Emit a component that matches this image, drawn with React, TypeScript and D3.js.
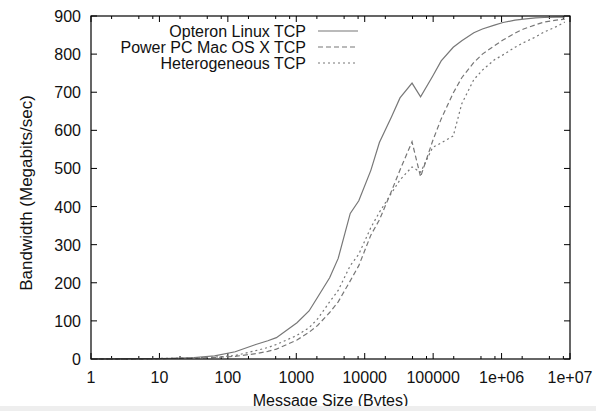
import React, { useEffect, useRef } from 'react';
import * as d3 from 'd3';

// message sizes in bytes
const sizes = [
  1, 2, 4, 8, 16, 32, 64, 128, 256, 384, 512, 1024, 1536, 2048, 3072, 4096,
  6144, 8192, 12288, 16384, 24576, 32768, 49152, 65536, 98304, 131072, 196608,
  262144, 393216, 524288, 786432, 1048576, 1572864, 2097152, 3145728, 4194304,
  6291456, 8388608,
];

// bandwidth in Megabits/sec
const opteron = [
  0.2, 0.4, 0.8, 1, 2, 4, 8, 19, 38, 48, 56, 95, 126, 162, 213, 264,
  382, 415, 495, 568, 635, 685, 724, 688, 742, 782, 818,
  835, 856, 866, 876, 883, 889, 892, 895, 896,
  897, 897,
];
const powerpc = [
  0.1, 0.2, 0.4, 0.8, 1.5, 2.5, 4, 7, 14, 20, 26, 50, 70, 88, 122, 150,
  205, 245, 325, 365, 440, 496, 570, 478, 572, 630, 698,
  738, 778, 800, 822, 837, 855, 866, 877, 884,
  889, 892,
];
const hetero = [
  0.1, 0.3, 0.6, 1, 2, 3, 5, 9, 22, 30, 38, 62, 82, 105, 150, 180,
  245, 275, 345, 385, 435, 470, 504, 490, 555, 567, 585,
  670, 733, 758, 785, 798, 818, 830, 845, 858,
  872, 884,
];

const series = [
  { name: 'Opteron Linux TCP', values: opteron, dash: null },
  { name: 'Power PC Mac OS X TCP', values: powerpc, dash: '5,3' },
  { name: 'Heterogeneous TCP', values: hetero, dash: '2,3' },
];

const xTicks = [1, 10, 100, 1000, 10000, 100000, 1e6, 1e7];
const xTickLabels = ['1', '10', '100', '1000', '10000', '100000', '1e+06', '1e+07'];
const yTicks = [0, 100, 200, 300, 400, 500, 600, 700, 800, 900];

const App = () => {
  const ref = useRef<SVGSVGElement>(null);

  useEffect(() => {
    const width = 596;
    const height = 411;
    const margin = { top: 16, right: 26, bottom: 52, left: 91 };
    const font = 'Liberation Sans, Arial, sans-serif';

    const svg = d3.select(ref.current);
    svg.selectAll('*').remove();
    svg.attr('width', width).attr('height', height);

    svg.append('rect').attr('width', width).attr('height', height).attr('fill', '#fff');

    const x = d3
      .scaleLog()
      .domain([1, 1e7])
      .range([margin.left, width - margin.right]);
    const y = d3
      .scaleLinear()
      .domain([0, 900])
      .range([height - margin.bottom, margin.top]);

    const [x0, x1] = x.range();
    const [y0, y1] = y.range();

    // minor ticks on the log axis (only 2, 5, 8 show in the picture)
    const minor: number[] = [];
    for (let e = 0; e < 7; e++) [2, 5, 8].forEach(m => minor.push(m * 10 ** e));

    const ticks = svg.append('g').attr('stroke', '#000').attr('stroke-width', 1);
    xTicks.forEach(t => {
      ticks.append('line').attr('x1', x(t)).attr('x2', x(t)).attr('y1', y0).attr('y2', y0 - 6);
      ticks.append('line').attr('x1', x(t)).attr('x2', x(t)).attr('y1', y1).attr('y2', y1 + 6);
    });
    minor.forEach(t => {
      ticks.append('line').attr('x1', x(t)).attr('x2', x(t)).attr('y1', y0).attr('y2', y0 - 3);
      ticks.append('line').attr('x1', x(t)).attr('x2', x(t)).attr('y1', y1).attr('y2', y1 + 3);
    });
    yTicks.forEach(t => {
      ticks.append('line').attr('x1', x0).attr('x2', x0 + 6).attr('y1', y(t)).attr('y2', y(t));
      ticks.append('line').attr('x1', x1).attr('x2', x1 - 6).attr('y1', y(t)).attr('y2', y(t));
    });

    // tick labels
    svg
      .append('g')
      .selectAll('text')
      .data(xTicks)
      .join('text')
      .attr('x', d => x(d))
      .attr('y', y0 + 24)
      .attr('text-anchor', 'middle')
      .attr('font-family', font)
      .attr('font-size', 16)
      .attr('fill', '#111')
      .text((d, i) => xTickLabels[i]);

    svg
      .append('g')
      .selectAll('text')
      .data(yTicks)
      .join('text')
      .attr('x', x0 - 10)
      .attr('y', d => y(d) + 6)
      .attr('text-anchor', 'end')
      .attr('font-family', font)
      .attr('font-size', 16)
      .attr('fill', '#111')
      .text(d => d);

    // axis titles
    svg
      .append('text')
      .attr('x', (x0 + x1) / 2)
      .attr('y', 406)
      .attr('text-anchor', 'middle')
      .attr('font-family', font)
      .attr('font-size', 16)
      .attr('fill', '#111')
      .text('Message Size (Bytes)');

    svg
      .append('text')
      .attr('transform', `translate(32,${193}) rotate(-90)`)
      .attr('text-anchor', 'middle')
      .attr('font-family', font)
      .attr('font-size', 17)
      .attr('fill', '#111')
      .text('Bandwidth (Megabits/sec)');

    // lines
    const line = d3
      .line<number>()
      .x((d, i) => x(sizes[i]))
      .y(d => y(d));

    svg
      .append('g')
      .selectAll('path')
      .data(series)
      .join('path')
      .attr('d', d => line(d.values))
      .attr('fill', 'none')
      .attr('stroke', '#777')
      .attr('stroke-width', 1.2)
      .attr('stroke-dasharray', d => d.dash);

    // legend
    const legend = svg
      .append('g')
      .selectAll('g')
      .data(series)
      .join('g')
      .attr('transform', (d, i) => `translate(0,${31 + i * 16})`);
    legend
      .append('text')
      .attr('x', 306)
      .attr('y', 6)
      .attr('text-anchor', 'end')
      .attr('font-family', font)
      .attr('font-size', 16)
      .attr('fill', '#111')
      .text(d => d.name);
    legend
      .append('line')
      .attr('x1', 318)
      .attr('x2', 358)
      .attr('stroke', '#777')
      .attr('stroke-width', 1.2)
      .attr('stroke-dasharray', d => d.dash);

    // frame
    svg
      .append('rect')
      .attr('x', x0)
      .attr('y', y1)
      .attr('width', x1 - x0)
      .attr('height', y0 - y1)
      .attr('fill', 'none')
      .attr('stroke', '#000')
      .attr('stroke-width', 1.2);

    // grey strip at the bottom of the screenshot
    svg.append('rect').attr('x', 0).attr('y', 406).attr('width', width).attr('height', 5).attr('fill', '#eeeeee');
  }, []);

  return <svg ref={ref} style={{ position: 'absolute', left: 0, top: 0 }}></svg>;
};

export default App;
